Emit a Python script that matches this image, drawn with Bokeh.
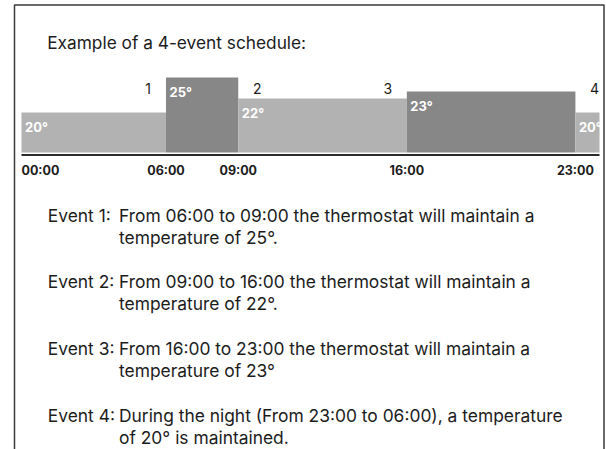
from bokeh.plotting import figure
from bokeh.models import Range1d, ColumnDataSource
from bokeh.core.properties import value
from bokeh.embed import file_html
from bokeh.resources import INLINE

# ---------------- data ----------------
title_text = "Example of a 4-event schedule:"
seg_start = [0, 6, 9, 16, 23]
seg_end = [6, 9, 16, 23, 24]
seg_temp = [20, 25, 22, 23, 20]
seg_label = ["20°", "25°", "22°", "23°", "20°"]
tick_hours = [0, 6, 9, 16, 23]
tick_labels = ["00:00", "06:00", "09:00", "16:00", "23:00"]
event_numbers = ["1", "2", "3", "4"]
event_start = [6, 9, 16, 23]
event_heads = ["Event 1:", "Event 2:", "Event 3:", "Event 4:"]
event_line1 = [
    "From 06:00 to 09:00 the thermostat will maintain a",
    "From 09:00 to 16:00 the thermostat will maintain a",
    "From 16:00 to 23:00 the thermostat will maintain a",
    "During the night (From 23:00 to 06:00), a temperature",
]
event_line2 = [
    "temperature of 25°.",
    "temperature of 22°.",
    "temperature of 23°",
    "of 20° is maintained.",
]

# ---------------- layout / style ----------------
W, H = 606, 449
PX0, PX24 = 21, 599          # figure pixel of 00:00 and 24:00
BASE_PY = 152                # figure pixel (from top) of bar bottoms
PX_PER_DEG = 7.0
BAR_FLOOR = 14.3
LIGHT, DARK = "#b2b2b2", "#878787"
seg_colors = [LIGHT, DARK, LIGHT, DARK, LIGHT]
num_offsets = [-18, 19, -19, 19]
FONT = "Inter"
TEXT_COLOR = "#1c1c1c"

pxh = (PX24 - PX0) / 24.0
x_start = -PX0 / pxh
x_end = 24 + (W - PX24) / pxh
y_end = BAR_FLOOR + BASE_PY / PX_PER_DEG
y_start = y_end - H / PX_PER_DEG


def X(px):
    return x_start + px / pxh


def Y(py):
    return y_end - py / PX_PER_DEG


p = figure(width=W, height=H, x_range=Range1d(x_start, x_end),
           y_range=Range1d(y_start, y_end), output_backend="svg",
           toolbar_location=None, min_border=0,
           x_axis_type=None, y_axis_type=None)
p.grid.visible = False
p.outline_line_color = None
p.background_fill_color = "white"
p.border_fill_color = "white"

# border (left, top, right)
p.line(x=[X(14), X(14), X(603.5), X(603.5)], y=[Y(H + 5), Y(4.5), Y(4.5), Y(H + 5)],
       line_color="#3a3a3a", line_width=1.5)

# title
p.text(x=[X(46.7)], y=[Y(41.7)], text=[title_text], text_font=value(FONT),
       text_font_size="17.3px", text_color=TEXT_COLOR, text_baseline="alphabetic")

# bars
src = ColumnDataSource(dict(left=seg_start, right=seg_end, top=seg_temp,
                            color=seg_colors, label=seg_label))
p.quad(left="left", right="right", top="top", bottom=BAR_FLOOR, source=src,
       fill_color="color", line_color=None)
p.text(x="left", y="top", text="label", source=src, x_offset=3.5, y_offset=14.5,
       text_font=value(FONT), text_font_style="bold", text_font_size="13px",
       text_color="white", text_baseline="alphabetic")

# baseline
p.line(x=[0, 24], y=[Y(154.5), Y(154.5)], line_color="#2b2b2b", line_width=2.2)

# tick labels
p.text(x=tick_hours[:1], y=[Y(170)], text=tick_labels[:1],
       text_font=value(FONT), text_font_style="bold", text_font_size="12.5px",
       text_color=TEXT_COLOR, text_align="left", text_baseline="alphabetic")
p.text(x=tick_hours[1:], y=[Y(170)] * 4, text=tick_labels[1:],
       text_font=value(FONT), text_font_style="bold", text_font_size="12.5px",
       text_color=TEXT_COLOR, text_align="center", text_baseline="alphabetic")

# event numbers
nsrc = ColumnDataSource(dict(x=event_start, y=[Y(88)] * 4, t=event_numbers,
                             off=num_offsets))
p.text(x="x", y="y", text="t", x_offset="off", source=nsrc,
       text_font=value(FONT), text_font_size="14px", text_color=TEXT_COLOR,
       text_align="center", text_baseline="alphabetic")

# event descriptions
EV_Y0, EV_STEP, LINE_STEP = 214.5, 66.7, 22.0
ev_y1 = [Y(EV_Y0 + i * EV_STEP) for i in range(4)]
ev_y2 = [Y(EV_Y0 + i * EV_STEP + LINE_STEP) for i in range(4)]
p.text(x=[X(47.3)] * 4, y=ev_y1, text=event_heads, text_font=value(FONT),
       text_font_size="17.4px", text_color=TEXT_COLOR, text_baseline="alphabetic")
p.text(x=[X(118.5)] * 4, y=ev_y1, text=event_line1, text_font=value(FONT),
       text_font_size="17.4px", text_color=TEXT_COLOR, text_baseline="alphabetic")
p.text(x=[X(118.5)] * 4, y=ev_y2, text=event_line2, text_font=value(FONT),
       text_font_size="17.4px", text_color=TEXT_COLOR, text_baseline="alphabetic")

open("out.html", "w").write(file_html(p, INLINE))
